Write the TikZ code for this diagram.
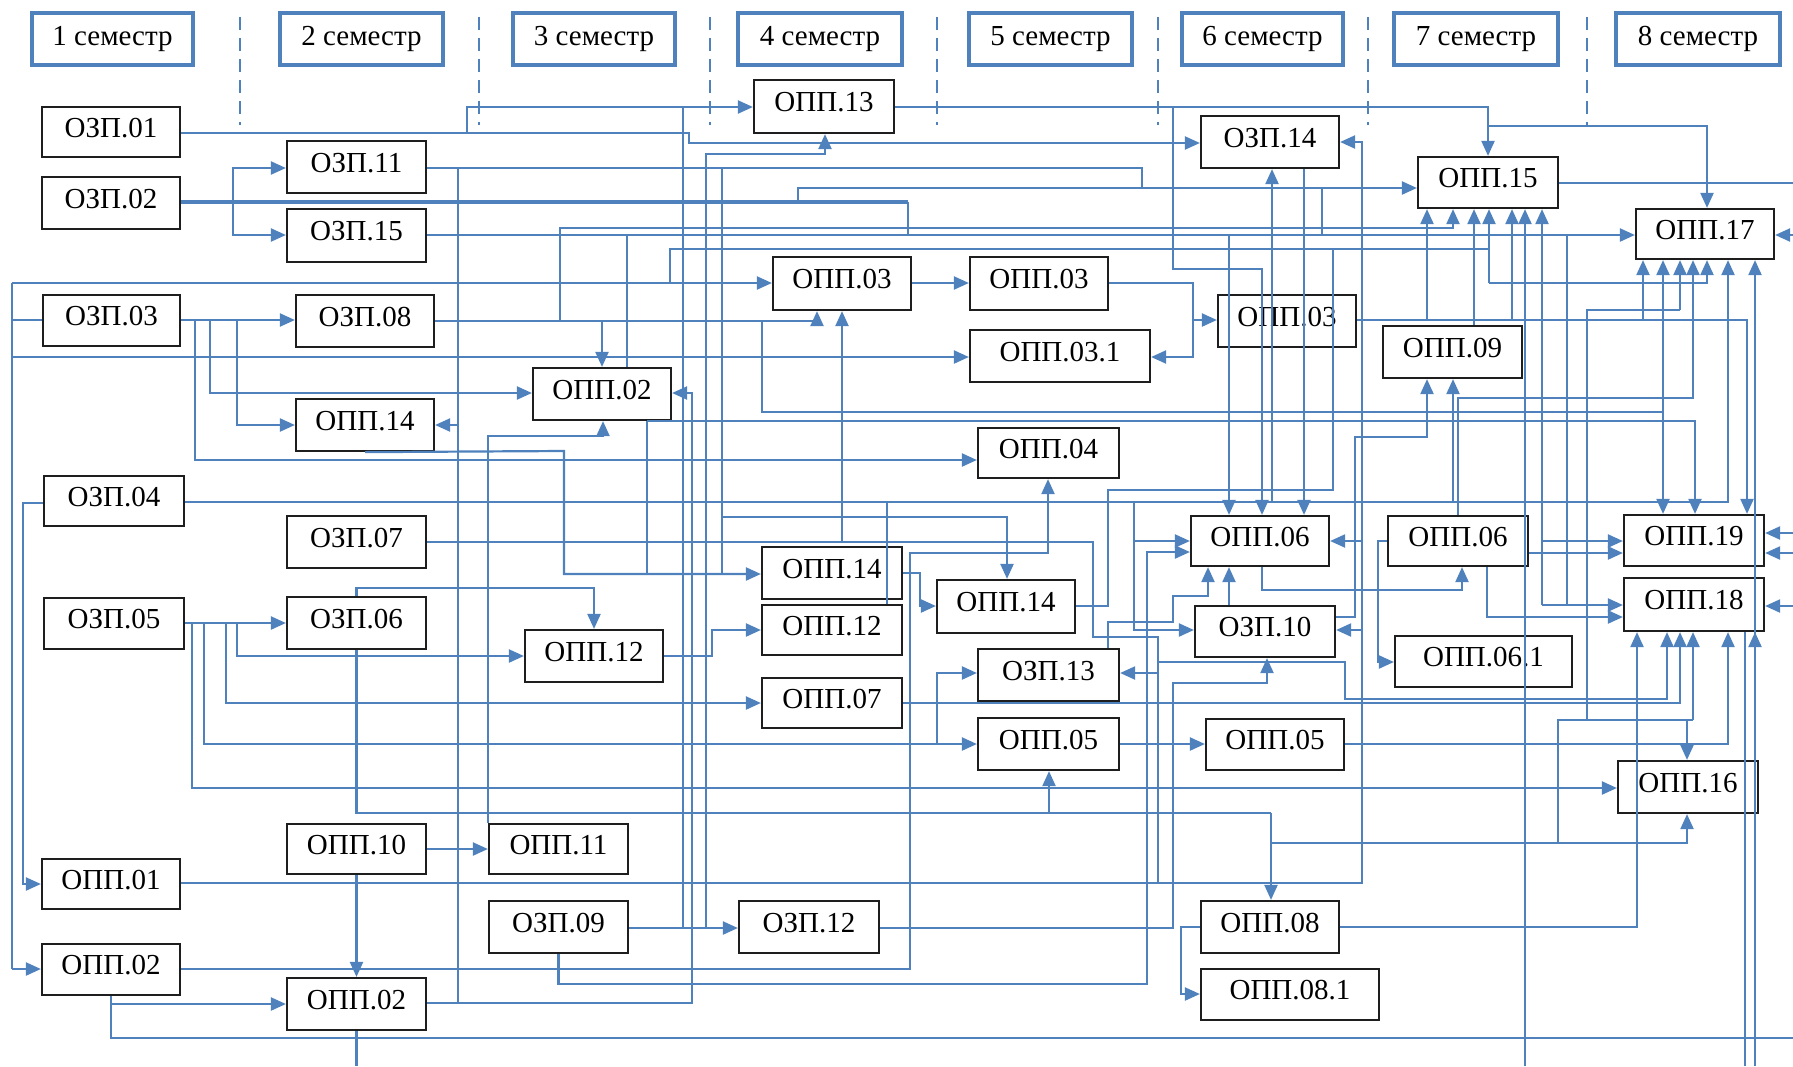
\documentclass[tikz,border=0pt]{standalone}
\usepackage{fontspec}
\setmainfont{Liberation Serif}
\usetikzlibrary{arrows.meta}
\definecolor{lb}{RGB}{79,129,189}
\definecolor{bk}{RGB}{30,30,30}
\begin{document}
\begin{tikzpicture}[x=1pt,y=-1pt,
  nb/.style={draw=bk, line width=2.2pt, inner sep=0pt, font=\fontsize{29}{31}\selectfont, text height=19pt, text depth=9pt},
  hb/.style={draw=lb, line width=4pt, inner sep=0pt, font=\fontsize{29}{31}\selectfont, text height=19pt, text depth=6pt},
  ln/.style={draw=lb, line width=2.2pt},
  arr/.style={draw=lb, line width=2.2pt, -{Triangle[length=15pt,width=13pt]}},
  dl/.style={draw=lb, line width=1.8pt, dash pattern=on 13pt off 8pt}]
\useasboundingbox (0,0) rectangle (1793,1066);
% headers
\node[hb, minimum width=161pt, minimum height=52pt] (h1) at (112.5,39) {1 семестр};
\node[hb, minimum width=163pt, minimum height=52pt] (h2) at (361.5,39) {2 семестр};
\node[hb, minimum width=162pt, minimum height=52pt] (h3) at (594,39) {3 семестр};
\node[hb, minimum width=164pt, minimum height=52pt] (h4) at (820,39) {4 семестр};
\node[hb, minimum width=163pt, minimum height=52pt] (h5) at (1050.5,39) {5 семестр};
\node[hb, minimum width=161pt, minimum height=52pt] (h6) at (1262.5,39) {6 семестр};
\node[hb, minimum width=164pt, minimum height=52pt] (h7) at (1476,39) {7 семестр};
\node[hb, minimum width=164pt, minimum height=52pt] (h8) at (1698,39) {8 семестр};
\foreach \x in {240,479,710,937,1158,1368,1587} \draw[dl] (\x,17) -- (\x,125);
% nodes
\node[nb, minimum width=138pt, minimum height=50pt] (ozp01) at (111,132) {ОЗП.01};
\node[nb, minimum width=138pt, minimum height=52pt] (ozp02) at (111,203) {ОЗП.02};
\node[nb, minimum width=139pt, minimum height=52pt] (ozp11) at (356.5,167) {ОЗП.11};
\node[nb, minimum width=139pt, minimum height=53pt] (ozp15) at (356.5,235.5) {ОЗП.15};
\node[nb, minimum width=137pt, minimum height=51pt] (ozp03) at (111.5,320.5) {ОЗП.03};
\node[nb, minimum width=138pt, minimum height=52pt] (ozp08) at (365,321) {ОЗП.08};
\node[nb, minimum width=138pt, minimum height=52pt] (opp14a) at (365,425) {ОПП.14};
\node[nb, minimum width=140pt, minimum height=50pt] (ozp04) at (114,501) {ОЗП.04};
\node[nb, minimum width=139pt, minimum height=52pt] (ozp07) at (356.5,542) {ОЗП.07};
\node[nb, minimum width=140pt, minimum height=51pt] (ozp05) at (114,623.5) {ОЗП.05};
\node[nb, minimum width=139pt, minimum height=52pt] (ozp06) at (356.5,623) {ОЗП.06};
\node[nb, minimum width=139pt, minimum height=50pt] (opp10) at (356.5,849) {ОПП.10};
\node[nb, minimum width=138pt, minimum height=50pt] (opp01) at (111,884) {ОПП.01};
\node[nb, minimum width=138pt, minimum height=51pt] (opp02a) at (111,969.5) {ОПП.02};
\node[nb, minimum width=139pt, minimum height=52pt] (opp02b) at (356.5,1004) {ОПП.02};
\node[nb, minimum width=138pt, minimum height=52pt] (opp02c) at (602,394) {ОПП.02};
\node[nb, minimum width=138pt, minimum height=52pt] (opp12a) at (594,656) {ОПП.12};
\node[nb, minimum width=139pt, minimum height=50pt] (opp11) at (558.5,849) {ОПП.11};
\node[nb, minimum width=139pt, minimum height=52pt] (ozp09) at (558.5,927) {ОЗП.09};
\node[nb, minimum width=140pt, minimum height=53pt] (opp13) at (824,106.5) {ОПП.13};
\node[nb, minimum width=138pt, minimum height=53pt] (opp03a) at (842,283.5) {ОПП.03};
\node[nb, minimum width=140pt, minimum height=52pt] (opp14b) at (832,573) {ОПП.14};
\node[nb, minimum width=140pt, minimum height=50pt] (opp12b) at (832,630) {ОПП.12};
\node[nb, minimum width=140pt, minimum height=50pt] (opp07) at (832,703) {ОПП.07};
\node[nb, minimum width=140pt, minimum height=52pt] (ozp12) at (809,927) {ОЗП.12};
\node[nb, minimum width=138pt, minimum height=53pt] (opp03b) at (1039,283.5) {ОПП.03};
\node[nb, minimum width=180pt, minimum height=52pt] (opp031) at (1060,356) {ОПП.03.1};
\node[nb, minimum width=141pt, minimum height=50pt] (opp04) at (1048.5,453) {ОПП.04};
\node[nb, minimum width=138pt, minimum height=53pt] (opp14c) at (1006,606.5) {ОПП.14};
\node[nb, minimum width=141pt, minimum height=52pt] (ozp13) at (1048.5,675) {ОЗП.13};
\node[nb, minimum width=141pt, minimum height=52pt] (opp05a) at (1048.5,744) {ОПП.05};
\node[nb, minimum width=138pt, minimum height=52pt] (ozp14) at (1270,142) {ОЗП.14};
\node[nb, minimum width=138pt, minimum height=52pt] (opp03c) at (1287,321) {ОПП.03};
\node[nb, minimum width=138pt, minimum height=50pt] (opp06a) at (1260,541) {ОПП.06};
\node[nb, minimum width=140pt, minimum height=51pt] (ozp10) at (1265,631.5) {ОЗП.10};
\node[nb, minimum width=138pt, minimum height=51pt] (opp05b) at (1275,744.5) {ОПП.05};
\node[nb, minimum width=138pt, minimum height=52pt] (opp08) at (1270,927) {ОПП.08};
\node[nb, minimum width=178pt, minimum height=51pt] (opp081) at (1290,994.5) {ОПП.08.1};
\node[nb, minimum width=140pt, minimum height=51pt] (opp15) at (1488,182.5) {ОПП.15};
\node[nb, minimum width=139pt, minimum height=52pt] (opp09) at (1452.5,352) {ОПП.09};
\node[nb, minimum width=140pt, minimum height=50pt] (opp06b) at (1458,541) {ОПП.06};
\node[nb, minimum width=177pt, minimum height=51pt] (opp061) at (1483.5,661.5) {ОПП.06.1};
\node[nb, minimum width=138pt, minimum height=50pt] (opp17) at (1705,234) {ОПП.17};
\node[nb, minimum width=140pt, minimum height=51pt] (opp19) at (1694,540.5) {ОПП.19};
\node[nb, minimum width=140pt, minimum height=53pt] (opp18) at (1694,604.5) {ОПП.18};
\node[nb, minimum width=140pt, minimum height=52pt] (opp16) at (1688,787) {ОПП.16};
% connectors
\draw[arr] (ozp01.east |- 0,133) -- (467,133) -- (467,107) -- (opp13.west |- 0,107);
\draw[arr] (467,133) -- (689,133) -- (689,143) -- (ozp14.west |- 0,143);
\draw[ln, line width=3.5pt] (ozp02.east |- 0,202) -- (908,202);
\draw[arr] (798,202) -- (798,188) -- (opp15.west |- 0,188);
\draw[ln] (908,202) -- (908,235);
\draw[arr] (233,202) -- (233,168) -- (ozp11.west |- 0,168);
\draw[arr] (233,202) -- (233,235) -- (ozp15.west |- 0,235);
\draw[ln] (ozp11.east |- 0,168) -- (1142,168) -- (1142,188);
\draw[ln] (722,168) -- (722,574);
\draw[arr] (722,517) -- (1007,517) -- (1007,0 |- opp14c.north);
\draw[ln] (458,168) -- (458,1003);
\draw[arr] (458,425) -- (opp14a.east |- 0,425);
\draw[arr] (ozp15.east |- 0,235) -- (opp17.west |- 0,235);
\draw[ln] (627,235) -- (627,0 |- opp02c.north);
\draw[arr] (ozp08.east |- 0,321) -- (817,321) -- (817,0 |- opp03a.south);
\draw[arr] (602,321) -- (602,0 |- opp02c.north);
\draw[arr] (560,321) -- (560,228) -- (1453,228) -- (1453,0 |- opp15.south);
\draw[arr] (762,321) -- (762,412) -- (1663,412) -- (1663,0 |- opp19.north);
\draw[arr] (1663,412) -- (1663,0 |- opp17.south);
\draw[arr] (ozp03.east |- 0,320) -- (ozp08.west |- 0,320);
\draw[ln] (ozp03.west |- 0,320) -- (12,320);
\draw[ln] (12,283) -- (12,969);
\draw[arr] (12,283) -- (opp03a.west |- 0,283);
\draw[arr] (12,357) -- (opp031.west |- 0,357);
\draw[arr] (12,969) -- (opp02a.west |- 0,969);
\draw[ln] (670,283) -- (670,249) -- (1489,249);
\draw[arr] (237,320) -- (237,425) -- (opp14a.west |- 0,425);
\draw[arr] (210,320) -- (210,393) -- (opp02c.west |- 0,393);
\draw[arr] (195,320) -- (195,460) -- (opp04.west |- 0,460);
\draw[arr] (opp14a.south) -- (564,451) -- (564,574) -- (opp14b.west |- 0,574);
\draw[ln] (647,0 |- opp02c.south) -- (647,574);
\draw[arr] (647,421) -- (1695,421) -- (1695,0 |- opp19.north);
\draw[arr] (opp11.north west) |- (603,436) -- (603,0 |- opp02c.south);
\draw[arr] (opp10.east |- 0,849) -- (opp11.west |- 0,849);
\draw[arr] (opp10.south) -- (opp02b.north);
\draw[arr] (opp02a.south) |- (opp02b.west |- 0,1004);
\draw[ln] (opp02a.south) -- (111,1038) -- (1793,1038);
\draw[ln] (opp02b.south) -- (356.5,1066);
\draw[arr] (opp02b.east |- 0,1003) -- (692,1003) -- (692,393) -- (opp02c.east |- 0,393);
\draw[arr] (opp02a.east |- 0,969) -- (910,969) -- (910,553) -- (1048,553) -- (1048,0 |- opp04.south);
\draw[arr] (opp01.east |- 0,883) -- (1362,883) -- (1362,142) -- (ozp14.east |- 0,142);
\draw[arr] (1362,541) -- (opp06a.east |- 0,541);
\draw[arr] (1362,630) -- (ozp10.east |- 0,630);
\draw[arr] (ozp04.west |- 0,503) -- (23,503) -- (23,884) -- (opp01.west |- 0,884);
\draw[arr] (ozp04.east |- 0,502) -- (1728,502) -- (1728,0 |- opp17.south);
\draw[arr] (1453,502) -- (1453,0 |- opp09.south);
\draw[arr] (1272,502) -- (1272,0 |- ozp14.south);
\draw[arr] (1134,502) -- (1134,541) -- (opp06a.west |- 0,541);
\draw[arr] (1134,541) -- (1134,630) -- (ozp10.west |- 0,630);
\draw[ln] (887,502) -- (887,0 |- opp12b.north);
\draw[arr] (ozp05.east |- 0,623) -- (ozp06.west |- 0,623);
\draw[arr] (237,623) -- (237,656) -- (opp12a.west |- 0,656);
\draw[arr] (226,623) -- (226,703) -- (opp07.west |- 0,703);
\draw[arr] (204,623) -- (204,744) -- (opp05a.west |- 0,744);
\draw[arr] (192,623) -- (192,788) -- (opp16.west |- 0,788);
\draw[arr] (937,744) -- (937,673) -- (ozp13.west |- 0,673);
\draw[arr] (ozp06.north) -- (356.5,588) -- (594,588) -- (594,0 |- opp12a.north);
\draw[ln] (ozp06.south) -- (356.5,813) -- (1271,813);
\draw[arr] (1049,813) -- (1049,0 |- opp05a.south);
\draw[arr] (1271,813) -- (1271,0 |- opp08.north);
\draw[arr] (1271,843) -- (1687,843) -- (1687,0 |- opp16.south);
\draw[ln] (1558,843) -- (1558,720) -- (1693,720);
\draw[arr] (1687,720) -- (1687,0 |- opp16.north);
\draw[arr] (1693,720) -- (1693,0 |- opp18.south);
\draw[ln] (1587,720) -- (1587,310) -- (1680,310);
\draw[arr] (1680,310) -- (1680,0 |- opp17.south);
\draw[arr] (ozp07.east |- 0,542) -- (842,542) -- (842,0 |- opp03a.south);
\draw[ln] (842,542) -- (1093,542) -- (1093,637) -- (1158,637) -- (1158,883);
\draw[arr] (1158,673) -- (ozp13.east |- 0,673);
\draw[arr] (1158,662) -- (1345,662) -- (1345,699) -- (1667,699) -- (1667,0 |- opp18.south);
\draw[arr] (opp12a.east |- 0,656) -- (712,656) -- (712,630) -- (opp12b.west |- 0,630);
\draw[ln] (ozp09.east |- 0,928) -- (683,928) -- (683,107);
\draw[arr] (683,928) -- (ozp12.west |- 0,928);
\draw[arr] (706,928) -- (706,154) -- (825,154) -- (825,0 |- opp13.south);
\draw[arr] (ozp09.south) -- (558.5,984) -- (1147,984) -- (1147,552) -- (opp06a.west |- 0,552);
\draw[arr] (ozp12.east |- 0,928) -- (1173,928) -- (1173,683) -- (1267,683) -- (1267,0 |- ozp10.south);
\draw[arr] (opp13.east |- 0,107) -- (1488,107) -- (1488,0 |- opp15.north);
\draw[arr] (1488,126) -- (1707,126) -- (1707,0 |- opp17.north);
\draw[arr] (1173,107) -- (1173,269) -- (1262,269) -- (1262,0 |- opp06a.north);
\draw[arr] (1304,0 |- ozp14.south) -- (1304,0 |- opp06a.north);
\draw[arr] (1229,235) -- (1229,0 |- opp06a.north);
\draw[arr] (1229,0 |- ozp10.north) -- (1229,0 |- opp06a.south);
\draw[arr] (1108,0 |- ozp13.north) -- (1108,622) -- (1173,622) -- (1173,596) -- (1208,596) -- (1208,0 |- opp06a.south);
\draw[arr] (1262,0 |- opp06a.south) -- (1262,590) -- (1462,590) -- (1462,0 |- opp06b.south);
\draw[arr] (opp06b.west) -- (1378,541) -- (1378,662) -- (opp061.west |- 0,662);
\draw[arr] (opp06b.east |- 0,553) -- (opp19.west |- 0,553);
\draw[arr] (1543,541) -- (opp19.west |- 0,541);
\draw[arr] (1542,605) -- (1542,0 |- opp15.south);
\draw[arr] (1542,605) -- (opp18.west |- 0,605);
\draw[ln] (1567,235) -- (1567,605);
\draw[arr] (1487,0 |- opp06b.south) -- (1487,617) -- (opp18.west |- 0,617);
\draw[arr] (1458,0 |- opp06b.north) -- (1458,398) -- (1693,398) -- (1693,0 |- opp17.south);
\draw[arr] (ozp10.east |- 0,617) -- (1355,617) -- (1355,437) -- (1427,437) -- (1427,0 |- opp09.south);
\draw[arr] (opp03a.east |- 0,283) -- (opp03b.west |- 0,283);
\draw[arr] (opp03b.east |- 0,283) -- (1193,283) -- (1193,320) -- (opp03c.west |- 0,320);
\draw[arr] (1193,320) -- (1193,357) -- (opp031.east |- 0,357);
\draw[arr] (opp03c.east |- 0,320) -- (1747,320) -- (1747,0 |- opp19.north);
\draw[arr] (1427,320) -- (1427,0 |- opp15.south);
\draw[arr] (1512,320) -- (1512,0 |- opp15.south);
\draw[arr] (1643,320) -- (1643,0 |- opp17.south);
\draw[arr] (1474,0 |- opp09.north) -- (1474,0 |- opp15.south);
\draw[arr] (1489,283) -- (1489,0 |- opp15.south);
\draw[arr] (1489,283) -- (1707,283) -- (1707,0 |- opp17.south);
\draw[ln] (opp14c.east |- 0,606) -- (1108,606) -- (1108,490) -- (1333,490) -- (1333,249);
\draw[arr] (opp14b.east |- 0,573) -- (920,573) -- (920,606) -- (opp14c.west |- 0,606);
\draw[ln] (opp15.east |- 0,183) -- (1793,183);
\draw[arr] (1793,235) -- (opp17.east |- 0,235);
\draw[arr] (1793,533) -- (opp19.east |- 0,533);
\draw[arr] (1793,553) -- (opp19.east |- 0,553);
\draw[arr] (1793,606) -- (opp18.east |- 0,606);
\draw[arr] (1525,1066) -- (1525,0 |- opp15.south);
\draw[arr] (1755,1066) -- (1755,0 |- opp17.south);
\draw[arr] (1755,680) -- (1755,0 |- opp18.south);
\draw[ln] (1745,1066) -- (1745,0 |- opp18.south);
\draw[arr] (opp05a.east |- 0,744) -- (opp05b.west |- 0,744);
\draw[arr] (opp05b.east |- 0,744) -- (1728,744) -- (1728,0 |- opp18.south);
\draw[arr] (opp07.east |- 0,703) -- (1680,703) -- (1680,0 |- opp18.south);
\draw[arr] (opp08.east |- 0,927) -- (1637,927) -- (1637,0 |- opp18.south);
\draw[arr] (opp08.west |- 0,927) -- (1181,927) -- (1181,994) -- (opp081.west |- 0,994);
\draw[ln] (1322,188) -- (1322,235);
\end{tikzpicture}
\end{document}
